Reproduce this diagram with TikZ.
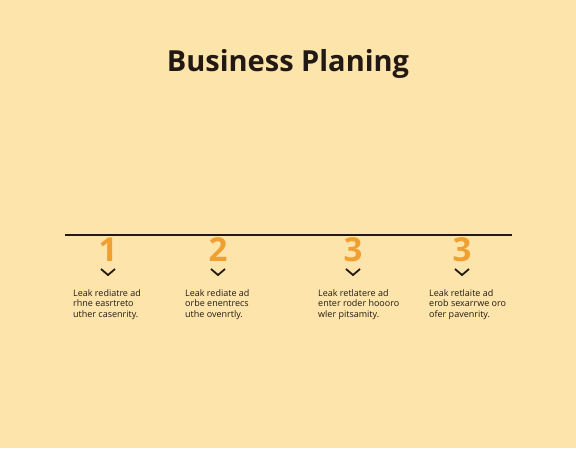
\documentclass[tikz,border=0pt]{standalone}
\usepackage{fontspec}
\setmainfont{Open Sans}
\usepackage{tikz}
\usetikzlibrary{positioning}

\definecolor{paper}{RGB}{252,228,170}
\definecolor{ink}{RGB}{35,25,20}
\definecolor{steporange}{RGB}{240,160,48}

\tikzset{
	title/.style={font=\fontsize{29}{32}\selectfont\bfseries, text=ink},
	num/.style={font=\fontsize{33}{36}\selectfont\bfseries, text=steporange, inner sep=0pt},
	chev/.style={draw=ink, line width=1.8pt},
	desc/.style={font=\fontsize{9}{10.8}\selectfont, text=ink, align=left, anchor=north west, inner sep=0pt}
}

\begin{document}
\begin{tikzpicture}[x=1pt, y=-1pt]
			\fill[paper] (0, 0) rectangle (576, 448);
			\useasboundingbox (0, 0) rectangle (576, 448);

			\node[title] (head) at (288, 64) {Business Planing};

			\coordinate (lineL) at (65, 235);
			\coordinate (lineR) at (512, 235);
			\draw[draw=ink, line width=2.4pt] (lineL) -- (lineR);

			\node[num] (num1) at (108, 250) {1};
			\node[num] (num2) at (218, 250) {2};
			\node[num] (num3) at (353, 250) {3};
			\node[num] (num4) at (462, 250) {3};

			\foreach \n/\x in {1/108, 2/218, 3/353, 4/462} {
				\draw[chev] (\x-7, 269) -- (\x, 275) -- (\x+7, 269);
			}

			\node[desc] (text1) at (73, 289) {Leak rediatre ad\\rhne easrtreto\\uther casenrity.};
			\node[desc] (text2) at (185, 289) {Leak rediate ad\\orbe enentrecs\\uthe ovenrtly.};
			\node[desc] (text3) at (318, 289) {Leak retlatere ad\\enter roder hoooro\\wler pitsamity.};
			\node[desc] (text4) at (429, 289) {Leak retlaite ad\\erob sexarrwe oro\\ofer pavenrity.};
		\end{tikzpicture}
\end{document}
